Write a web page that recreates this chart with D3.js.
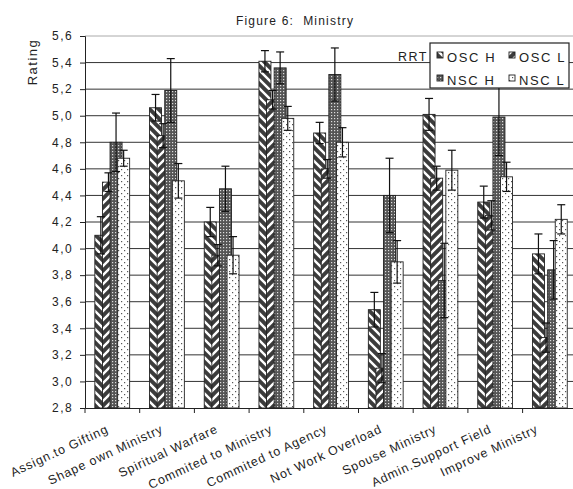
<!DOCTYPE html>
<html>
<head>
<meta charset="utf-8">
<script src="https://cdn.jsdelivr.net/npm/d3@7"></script>
<style>
  html, body { margin: 0; padding: 0; background: #fff; }
  svg { display: block; font-family: "Liberation Sans", Arial, sans-serif; }
  text { fill: #222; }
</style>
</head>
<body>
<div id="chart"></div>
<script>
// ---------------- data ----------------
const categories = ["Assign.to Gifting", "Shape own Ministry", "Spiritual Warfare",
  "Commited to Ministry", "Commited to Agency", "Not Work Overload",
  "Spouse Ministry", "Admin.Support Field", "Improve Ministry"];
const seriesNames = ["OSC H", "OSC L", "NSC H", "NSC L"];
const oscH    = [4.10, 5.06, 4.20, 5.41, 4.87, 3.54, 5.01, 4.35, 3.96];
const oscHErr = [0.14, 0.10, 0.11, 0.08, 0.08, 0.13, 0.12, 0.12, 0.15];
const oscL    = [4.50, 4.85, 3.95, 5.12, 4.60, 3.10, 4.53, 4.25, 3.33];
const oscLErr = [0.07, 0.09, 0.08, 0.07, 0.07, 0.11, 0.09, 0.11, 0.11];
const nscH    = [4.80, 5.19, 4.45, 5.36, 5.31, 4.40, 3.76, 4.99, 3.84];
const nscHErr = [0.22, 0.24, 0.17, 0.12, 0.20, 0.28, 0.28, 0.29, 0.22];
const nscL    = [4.68, 4.51, 3.95, 4.98, 4.80, 3.90, 4.59, 4.54, 4.22];
const nscLErr = [0.06, 0.13, 0.14, 0.09, 0.11, 0.16, 0.15, 0.11, 0.11];
const yTicks  = [2.8, 3.0, 3.2, 3.4, 3.6, 3.8, 4.0, 4.2, 4.4, 4.6, 4.8, 5.0, 5.2, 5.4, 5.6];
const titleText = "Figure 6:  Ministry";
const yTitle = "Rating";
const legendTitle = "RRT";

const seriesVals = [oscH, oscL, nscH, nscL];
const seriesErr = [oscHErr, oscLErr, nscHErr, nscLErr];

// ---------------- layout ----------------
const W = 573, H = 489;
const plotL = 85, plotT = 36, plotB = 408;
const bandW = 54.7;
const plotR = plotL + bandW * categories.length;

const svg = d3.select("#chart").append("svg")
  .attr("width", W).attr("height", H);

const defs = svg.append("defs");
// OSC H : dark with white "\" stripes
const p1 = defs.append("pattern").attr("id", "pOscH").attr("patternUnits", "userSpaceOnUse")
  .attr("width", 9).attr("height", 9);
p1.append("rect").attr("width", 9).attr("height", 9).attr("fill", "#3c3c3c");
p1.append("path").attr("d", "M-2,-2 L11,11 M-2,7 L2,11 M7,-2 L11,2")
  .attr("stroke", "#fff").attr("stroke-width", 2.4);
// OSC L : dark with white "/" stripes
const p2 = defs.append("pattern").attr("id", "pOscL").attr("patternUnits", "userSpaceOnUse")
  .attr("width", 9).attr("height", 9);
p2.append("rect").attr("width", 9).attr("height", 9).attr("fill", "#3c3c3c");
p2.append("path").attr("d", "M-2,11 L11,-2 M-2,2 L2,-2 M7,11 L11,7")
  .attr("stroke", "#fff").attr("stroke-width", 2.4);
// NSC H : gray with white dot grid
const p3 = defs.append("pattern").attr("id", "pNscH").attr("patternUnits", "userSpaceOnUse")
  .attr("width", 3).attr("height", 3);
p3.append("rect").attr("width", 3).attr("height", 3).attr("fill", "#555");
p3.append("rect").attr("x", 1).attr("y", 1).attr("width", 1.2).attr("height", 1.2).attr("fill", "#ddd");
// NSC L : white with sparse dots
const p4 = defs.append("pattern").attr("id", "pNscL").attr("patternUnits", "userSpaceOnUse")
  .attr("width", 6).attr("height", 6);
p4.append("rect").attr("width", 6).attr("height", 6).attr("fill", "#fff");
p4.append("rect").attr("x", 1).attr("y", 1).attr("width", 1.2).attr("height", 1.2).attr("fill", "#555");
p4.append("rect").attr("x", 4).attr("y", 4).attr("width", 1.2).attr("height", 1.2).attr("fill", "#555");
const fills = ["url(#pOscH)", "url(#pOscL)", "url(#pNscH)", "url(#pNscL)"];

// ---------------- scales ----------------
const x = d3.scaleBand().domain(categories).range([plotL, plotR]).padding(0);
const y = d3.scaleLinear().domain([2.8, 5.6]).range([plotB, plotT]);
const barW = 12;
const inner = d3.scaleLinear().domain([0, 3]).range([bandW * 0.18, bandW * 0.18 + 3 * 7.6]);

// ---------------- gridlines ----------------
svg.append("g").selectAll("line").data(yTicks.filter(t => t > 2.8 && t < 5.6)).join("line")
  .attr("x1", plotL).attr("x2", W)
  .attr("y1", d => y(d)).attr("y2", d => y(d))
  .attr("stroke", "#333").attr("stroke-width", 1);
svg.append("line").attr("x1", plotL).attr("x2", W).attr("y1", y(5.6)).attr("y2", y(5.6))
  .attr("stroke", "#aaa").attr("stroke-width", 1);

// ---------------- bars ----------------
seriesVals.forEach((vals, si) => {
  svg.append("g").selectAll("rect").data(vals).join("rect")
    .attr("x", (d, i) => x(categories[i]) + inner(si))
    .attr("y", d => y(d))
    .attr("width", barW)
    .attr("height", d => y(2.8) - y(d))
    .attr("fill", fills[si])
    .attr("stroke", "#222").attr("stroke-width", 0.9);
});

// ---------------- error bars ----------------
const eg = svg.append("g").attr("stroke", "#111").attr("stroke-width", 1.2);
seriesVals.forEach((vals, si) => {
  vals.forEach((v, i) => {
    const e = seriesErr[si][i];
    const cx = x(categories[i]) + inner(si) + barW / 2;
    eg.append("line").attr("x1", cx).attr("x2", cx).attr("y1", y(v + e)).attr("y2", y(v - e));
    eg.append("line").attr("x1", cx - 4).attr("x2", cx + 4).attr("y1", y(v + e)).attr("y2", y(v + e));
    eg.append("line").attr("x1", cx - 4).attr("x2", cx + 4).attr("y1", y(v - e)).attr("y2", y(v - e));
  });
});

// ---------------- axes ----------------
const yAxis = d3.axisLeft(y).tickValues(yTicks).tickSize(5).tickPadding(7)
  .tickFormat(d => d3.format(".1f")(d).replace(".", ","));
const gy = svg.append("g").attr("transform", `translate(${plotL},0)`).call(yAxis);
gy.select(".domain").attr("stroke", "#222");
gy.selectAll(".tick line").attr("stroke", "#222");
gy.selectAll("text").attr("font-size", 12).attr("letter-spacing", 1.4).attr("fill", "#222");

const xAxis = d3.axisBottom(x).tickSize(0).tickFormat("");
const gx = svg.append("g").attr("transform", `translate(0,${plotB})`).call(xAxis);
gx.select(".domain").attr("stroke", "#222");
// tick marks at category boundaries
gx.append("g").selectAll("line").data(categories).join("line")
  .attr("x1", d => x(d)).attr("x2", d => x(d)).attr("y1", 0).attr("y2", 5)
  .attr("stroke", "#222");

// category labels (rotated), kept inside the visible chart area
svg.append("g").selectAll("text").data(categories).join("text")
  .attr("transform", d => `translate(${Math.min(x(d) + x.bandwidth() / 2 - 3, W - 34)},432) rotate(-25)`)
  .attr("text-anchor", "end")
  .attr("font-size", 12.5).attr("letter-spacing", 0.9)
  .text(d => d);

// titles
svg.append("text").attr("x", 295).attr("y", 25).attr("text-anchor", "middle")
  .attr("font-size", 12).attr("letter-spacing", 1.2).style("white-space", "pre")
  .text(titleText);
svg.append("text").attr("transform", "translate(37,62) rotate(-90)").attr("text-anchor", "middle")
  .attr("font-size", 13).attr("letter-spacing", 1.5)
  .text(yTitle);

// ---------------- legend ----------------
svg.append("text").attr("x", 428).attr("y", 61).attr("text-anchor", "end")
  .attr("font-size", 12.5).attr("letter-spacing", 1.5).text(legendTitle);
const lg = svg.append("g").attr("transform", "translate(430,43)");
lg.append("rect").attr("width", 139).attr("height", 45).attr("fill", "#fff")
  .attr("stroke", "#222").attr("stroke-width", 1.2);
const legPos = [[7, 9], [79, 9], [7, 32], [79, 32]];
seriesNames.forEach((n, i) => {
  const [lx, ly] = legPos[i];
  lg.append("rect").attr("x", lx).attr("y", ly).attr("width", 6).attr("height", 6)
    .attr("fill", fills[i]).attr("stroke", "#222").attr("stroke-width", 0.9);
  lg.append("text").attr("x", lx + 10).attr("y", ly + 9.5)
    .attr("font-size", 13).attr("letter-spacing", 1.6).text(n);
});
</script>
</body>
</html>
